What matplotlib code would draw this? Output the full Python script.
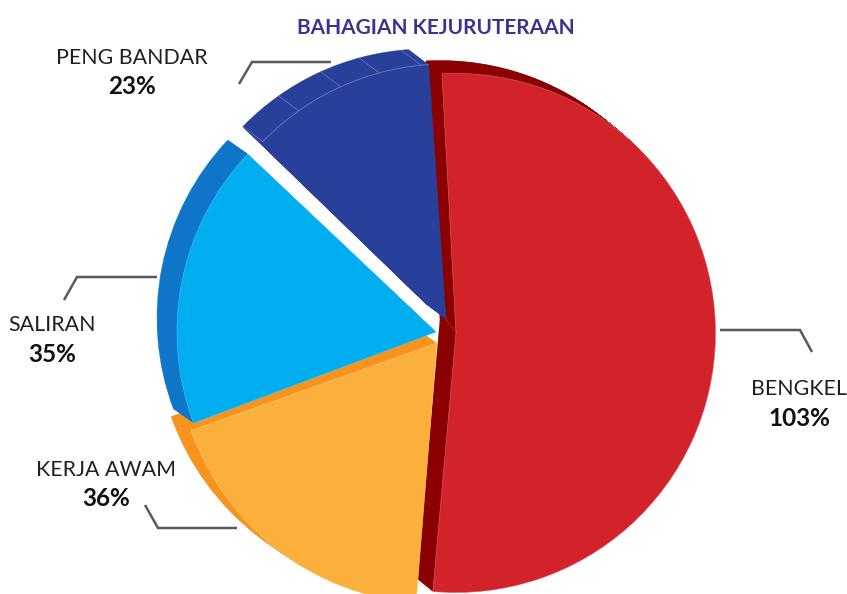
import numpy as np
import matplotlib
matplotlib.use('Agg')
import matplotlib.pyplot as plt

W, H = 847, 594

TITLE = "BAHAGIAN KEJURUTERAAN"
LABELS = ["BENGKEL", "KERJA AWAM", "SALIRAN", "PENG BANDAR"]
VALUES = [103, 36, 35, 23]

FACE_COLORS = ["#D2232A", "#FBB03B", "#00AEEF", "#29409A"]
SIDE_COLORS = ["#8B0000", "#F7941E", "#0F75C9", "#29409A"]
EDGE_COLORS = ["#DD6A6E", "#FCC77A", "#4CC6F3", "#7887C0"]

# where each slice sits, in picture pixels
CENTERS = [(456, 333), (437, 343), (436, 332), (446, 319)]
RADII = [259.5, 261, 259, 255]
SIDE_SHIFT = [(-16, -13), (-20, -14), (-20, -14), (-20, -15)]
DRAW_ORDER = [1, 2, 3]

START_ANGLE = 93.1
# the slices in the picture are turned a little against each other
TURN = [0, 0.5, 1.5, 0.8]

# leader lines: x points, y points
LEADERS = {
    "PENG BANDAR": ([239, 252, 331], [84, 62, 62]),
    "SALIRAN": ([64, 77, 157], [300, 277, 277]),
    "BENGKEL": ([720, 800, 812], [330, 330, 352]),
    "KERJA AWAM": ([145, 158, 237], [505, 528, 528]),
}
LABEL_POS = {
    "PENG BANDAR": (132, 58, 87),
    "SALIRAN": (52, 325, 354),
    "BENGKEL": (799, 389, 419),
    "KERJA AWAM": (106, 470, 499),
}

# little facet lines on the navy side
NAVY_FACETS = [125.3, 114.4, 105.2, 95.6]

plt.rcParams['font.family'] = ['Lato', 'DejaVu Sans']

fig = plt.figure(figsize=(W / 100, H / 100), dpi=100)
ax = fig.add_axes([0, 0, 1, 1])


def draw_slice(i, cx, cy, color, edge=None):
    colors = ["none"] * len(VALUES)
    colors[i] = color
    wedges, _ = ax.pie(
        VALUES, colors=colors, startangle=START_ANGLE + TURN[i],
        counterclock=False, center=(cx, H - cy), radius=RADII[i], frame=True,
    )
    for j, w in enumerate(wedges):
        if j != i:
            w.remove()
    if edge:
        wedges[i].set_edgecolor(edge)
        wedges[i].set_linewidth(0.4)
    else:
        wedges[i].set_edgecolor(color)
        wedges[i].set_linewidth(0.3)


def draw_side(i):
    cx, cy = CENTERS[i]
    dx, dy = SIDE_SHIFT[i]
    for t in np.linspace(1, 0.04, 25):
        draw_slice(i, cx + dx * t, cy + dy * t, SIDE_COLORS[i])


# red side goes behind everything
draw_side(0)

for i in DRAW_ORDER:
    draw_side(i)
    edge = None if i == 3 else EDGE_COLORS[i]
    draw_slice(i, CENTERS[i][0], CENTERS[i][1], FACE_COLORS[i], edge)

draw_slice(0, CENTERS[0][0], CENTERS[0][1], FACE_COLORS[0], EDGE_COLORS[0])

# navy front only shows its arc, plus the facets on the rim
cx, cy = CENTERS[3]
dx, dy = SIDE_SHIFT[3]
navy_start = START_ANGLE + TURN[3]
navy_end = navy_start + VALUES[3] / sum(VALUES) * 360
theta = np.radians(np.linspace(navy_start, navy_end, 60))
ax.plot(cx + RADII[3] * np.cos(theta), H - cy + RADII[3] * np.sin(theta),
        color=EDGE_COLORS[3], lw=0.5)
for a in NAVY_FACETS + [navy_end]:
    px = cx + RADII[3] * np.cos(np.radians(a))
    py = cy - RADII[3] * np.sin(np.radians(a))
    ax.plot([px, px + dx], [H - py, H - (py + dy)], color=EDGE_COLORS[3], lw=0.4)

# facet between navy tip and red tip
ax.plot([cx, CENTERS[0][0]], [H - cy, H - CENTERS[0][1]], color="#B84040", lw=0.4)

for name, val in zip(LABELS, VALUES):
    xs, ys = LEADERS[name]
    ax.plot(xs, [H - y for y in ys], color="#5A5A5A", lw=1.8,
            solid_joinstyle='miter', solid_capstyle='butt')
    x, y1, y2 = LABEL_POS[name]
    ax.text(x, H - y1, name, ha='center', va='center', fontsize=15.4,
            color="#231F20")
    ax.text(x, H - y2, f"{val}%", ha='center', va='center', fontsize=17.5,
            fontweight='bold', color="#111111")

ax.text(436, H - 28, TITLE, ha='center', va='center', fontsize=15,
        fontweight='bold', color="#3F3092")

ax.set_xlim(0, W)
ax.set_ylim(0, H)
ax.set_axis_off()

fig.savefig("out.png", dpi=100)
